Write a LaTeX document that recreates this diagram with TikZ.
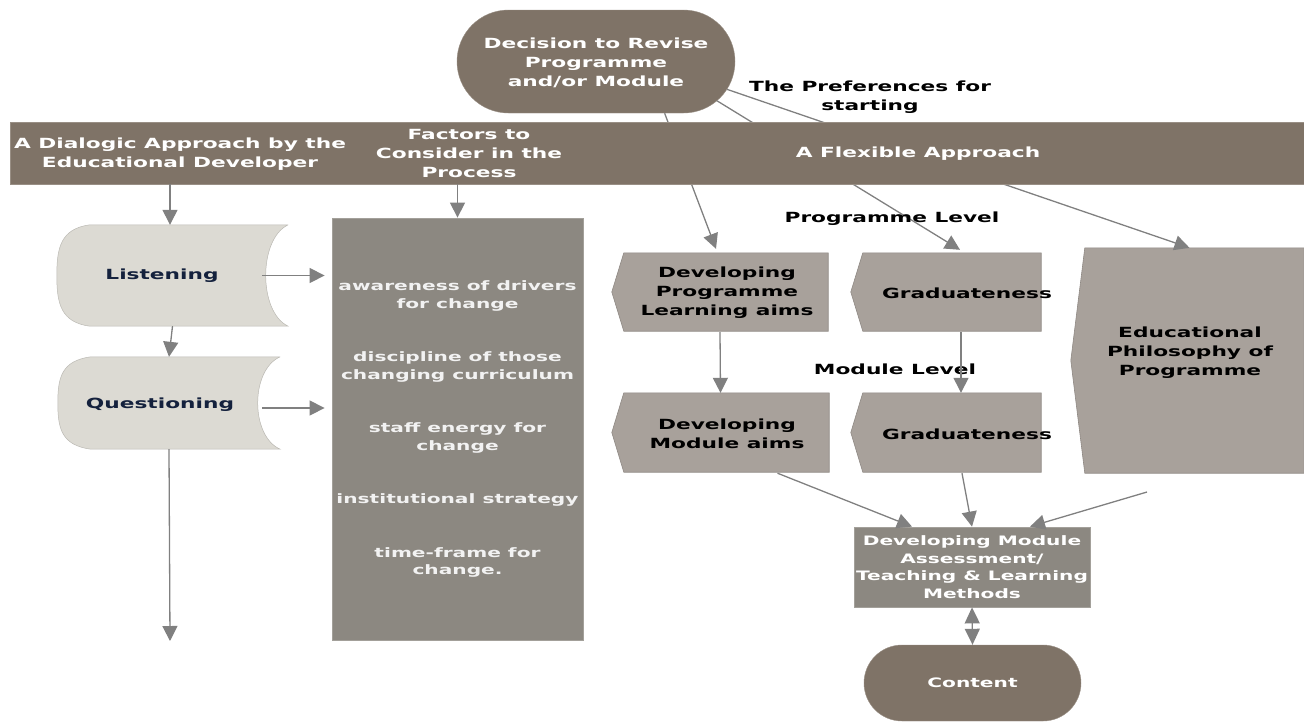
\documentclass[tikz,border=0pt]{standalone}
\usepackage{fontspec}
\setmainfont{DejaVu Sans Bold}[FakeStretch=1.55]
\usetikzlibrary{arrows.meta,shapes.misc,calc,backgrounds}
\definecolor{brownC}{HTML}{7F7367}
\definecolor{factC}{HTML}{8C8881}
\definecolor{pentC}{HTML}{A8A19B}
\definecolor{listC}{HTML}{DCDAD3}
\definecolor{lineC}{HTML}{808080}
\definecolor{navyC}{HTML}{14213D}
\tikzset{
  txt/.style={align=center,inner sep=0pt,font=\fontsize{14}{19}\selectfont},
  wtxt/.style={txt,text=white},
  shapebox/.style={draw=none,inner sep=0pt,minimum width=#1},
  arr/.style={draw=lineC,line width=1.3pt,-{Triangle[length=15pt,width=15pt]}},
  pent/.style={fill=pentC,draw=pentC!85!black,line width=0.6pt},
}
\begin{document}
\begin{tikzpicture}[x=1pt,y=-1pt]
\useasboundingbox (0,0) rectangle (1304,721);

% decision
\node[rounded rectangle,fill=brownC,draw=brownC!80!white,minimum width=278,minimum height=103,inner sep=0pt] (dec) at (596,61.5) {};
\node[wtxt] at (596,63) {Decision to Revise\\Programme\\and/or Module};

% preference label
\node[txt] (pref) at (870,97) {The Preferences for\\starting};

% invisible target boxes
\node[shapebox=216,minimum height=78] (dpla) at (720,292) {};
\node[shapebox=190,minimum height=78] (g1) at (946,292) {};
\node[shapebox=217,minimum height=79] (dma) at (720.5,432.5) {};
\node[shapebox=190,minimum height=79] (g2) at (946,432.5) {};
\node[shapebox=233,minimum height=225] (ep) at (1187.5,360.5) {};
\node[shapebox=231,minimum height=101] (listen) at (172.5,275.5) {};
\node[shapebox=222,minimum height=92] (quest) at (169,403) {};

% lines from decision (behind band)
\draw[arr] (dec.-37.5) -- ($(dpla.north)+(-4,-4)$);
\draw[arr] (dec.-18) -- ($(g1.north)+(14,-3)$);
\draw[arr] (dec.-12) -- ($(ep.north)+(2,0)$);

% band
\node[fill=brownC,draw=brownC!80!white,inner sep=0pt,minimum width=1294,minimum height=62] (band) at (657,153) {};
\node[wtxt] (bandL) at (180,154) {A Dialogic Approach by the\\Educational Developer};
\node[wtxt] (bandM) at (469,153) {Factors to\\Consider in the\\Process};
\node[wtxt] (bandR) at (918,154) {A Flexible Approach};

% factors box
\node[fill=factC,draw=factC!80!white,line width=0.8pt,minimum width=251,minimum height=422,inner sep=0pt,
  text=white!95!black,align=center,font=\fontsize{13}{17.5}\selectfont] (facts) at (457.5,429)
  {awareness of drivers\\for change\\[36pt]discipline of those\\changing curriculum\\[36pt]staff energy for\\change\\[36pt]institutional strategy\\[36pt]time-frame for\\change.};

% listening / questioning shapes
\begin{scope}[on background layer]
\path[fill=listC,draw=listC!85!black,line width=0.5pt]
  ($(listen.north east)$) -- ($(listen.north west)+(33,0)$)
  .. controls ($(listen.north west)+(4,4)$) and ($(listen.west)+(0,-28)$) .. (listen.west)
  .. controls ($(listen.west)+(0,28)$) and ($(listen.south west)+(4,-4)$) .. ($(listen.south west)+(33,0)$)
  -- (listen.south east)
  .. controls ($(listen.south east)+(-30,-14)$) and ($(listen.north east)+(-30,14)$) .. (listen.north east);
\path[fill=listC,draw=listC!85!black,line width=0.5pt]
  ($(quest.north east)$) -- ($(quest.north west)+(33,0)$)
  .. controls ($(quest.north west)+(4,4)$) and ($(quest.west)+(0,-26)$) .. (quest.west)
  .. controls ($(quest.west)+(0,26)$) and ($(quest.south west)+(4,-4)$) .. ($(quest.south west)+(33,0)$)
  -- (quest.south east)
  .. controls ($(quest.south east)+(-30,-13)$) and ($(quest.north east)+(-30,13)$) .. (quest.north east);
% pentagons
\foreach \n/\d in {dpla/12,g1/12,dma/12,g2/12,ep/14}{
  \path[pent] ($(\n.north west)+(\d,0)$) -- (\n.north east) -- (\n.south east) -- ($(\n.south west)+(\d,0)$) -- (\n.west) -- cycle;
}
\end{scope}
\node[txt,text=navyC] at (162,276) {Listening};
\node[txt,text=navyC] at (160,405) {Questioning};

\node[txt] at (727,293) {Developing\\Programme\\Learning aims};
\node[txt] at (967,293) {Graduateness};
\node[txt] at (727,434) {Developing\\Module aims};
\node[txt] at (967,434) {Graduateness};
\node[txt] at (1190,353) {Educational\\Philosophy of\\Programme};

\node[txt] (plevel) at (892,219) {Programme Level};
\node[txt] (mlevel) at (895,369) {Module Level};

% DMA box
\node[fill=factC,draw=factC!80!white,line width=0.8pt,minimum width=236,minimum height=80,inner sep=0pt,
  text=white,align=center,font=\fontsize{13}{17.7}\selectfont] (dmab) at (972,567)
  {Developing Module\\Assessment/\\Teaching \& Learning\\Methods};

% content
\node[rounded rectangle,fill=brownC,draw=brownC!80!white,minimum width=217,minimum height=76,inner sep=0pt,
  text=white,font=\fontsize{13}{18}\selectfont] (content) at (972.5,683) {Content};

% connectors
\draw[arr] (band.south -| 170,0) -- (listen.north -| 170,0);
\draw[arr] (band.south -| facts.north) -- (facts.north);
\draw[arr] (listen.south) -- (quest.north);
\coordinate (qend) at (170,641);
\draw[arr] (quest.south) -- (qend);
\draw[arr] ($(listen.east)+(-26,0)$) -- ($(listen.east -| facts.west)+(-7,0)$);
\draw[arr] ($(quest.east)+(-18,5)$) -- ($(quest.east -| facts.west)+(-7,5)$);
\draw[arr] ($(dpla.south)+(0,1)$) -- (dma.north);
\draw[arr] ($(g1.south)+(15,1)$) -- ($(g2.north)+(15,0)$);
\draw[arr] ($(dma.south)+(57,1)$) -- ($(dmab.north)+(-60,0)$);
\draw[arr] ($(g2.south)+(16,1)$) -- (dmab.north);
\coordinate (epfoot) at (1147,492);
\draw[arr] (epfoot) -- ($(dmab.north)+(58,0)$);
\draw[draw=lineC,line width=1.3pt,{Triangle[length=16pt,width=15pt]}-{Triangle[length=16pt,width=15pt]}] (dmab.south) -- (content.north);
\end{tikzpicture}
\end{document}
